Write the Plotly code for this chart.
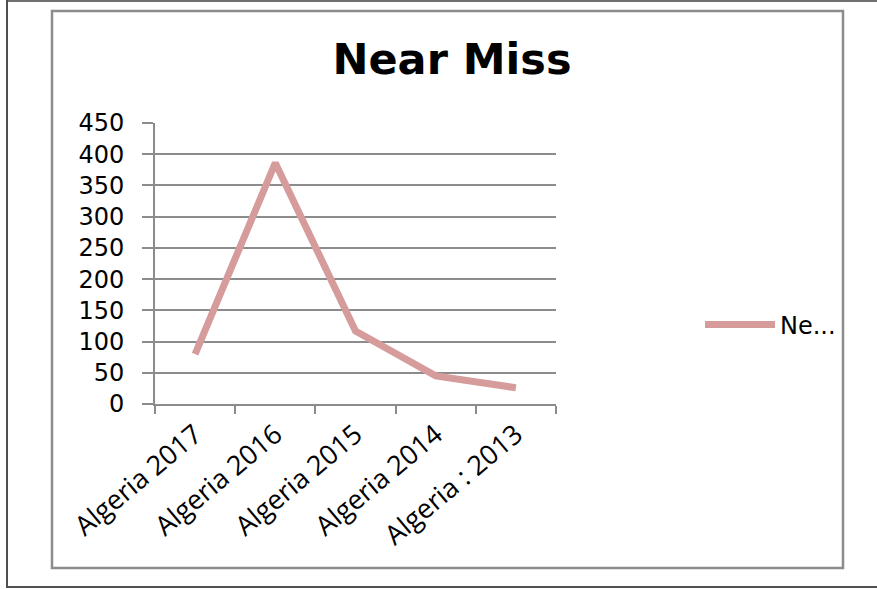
import plotly.graph_objects as go

categories = ["Algeria 2017", "Algeria 2016", "Algeria 2015", "Algeria 2014", "Algeria : 2013"]
near_miss = [80, 386, 117, 45, 26]
series_name = "Ne..."
y_ticks = [0, 50, 100, 150, 200, 250, 300, 350, 400, 450]

W, H = 877, 589
L, R, T, B = 155, 556, 123, 404  # plot area pixel bounds


def px(x):
    return (x - L) / (R - L)


def py(y):
    return (B - y) / (B - T)


fig = go.Figure()
fig.add_trace(go.Scatter(
    x=categories, y=near_miss, mode="lines", name=series_name,
    line=dict(color="#D69C9C", width=7),
))

grid = "#8c8c8c"
fig.update_layout(
    width=W, height=H,
    margin=dict(l=L, r=W - R, t=T, b=H - B),
    paper_bgcolor="white", plot_bgcolor="white",
    title=dict(text="Near Miss", x=452 / W, xref="container", xanchor="center",
               y=1 - 59 / H, yref="container", yanchor="middle",
               font=dict(family="DejaVu Sans", size=43, color="black", weight="bold")),
    showlegend=True,
    legend=dict(x=px(700), y=py(325), xanchor="left", yanchor="middle",
                font=dict(family="DejaVu Sans", size=24, color="black"),
                bgcolor="rgba(0,0,0,0)", itemwidth=70),
    xaxis=dict(type="category", range=[-0.5, 4.5], tickson="boundaries",
               showgrid=False, showline=True, linecolor=grid, linewidth=2,
               ticks="outside", ticklen=8, tickwidth=2, tickcolor=grid,
               tickangle=-40, ticklabelstandoff=2,
               tickfont=dict(family="Open Sans", size=27, color="black")),
    yaxis=dict(range=[0, 450], tickvals=y_ticks, showgrid=True, gridcolor=grid, gridwidth=1.5,
               showline=True, linecolor=grid, linewidth=2,
               ticks="outside", ticklen=11, tickwidth=1.5, tickcolor=grid,
               tickfont=dict(family="DejaVu Sans", size=24, color="black"),
               ticklabelstandoff=13, zeroline=False),
)

shapes = [
    # outer frame
    dict(type="line", xref="paper", yref="paper", x0=px(7), x1=px(877), y0=py(1), y1=py(1),
         line=dict(color="#707070", width=2)),
    dict(type="line", xref="paper", yref="paper", x0=px(7), x1=px(7), y0=py(0), y1=py(588),
         line=dict(color="#505050", width=2)),
    dict(type="line", xref="paper", yref="paper", x0=px(7), x1=px(877), y0=py(587), y1=py(587),
         line=dict(color="#505050", width=2)),
    # inner chart box
    dict(type="rect", xref="paper", yref="paper", x0=px(52), x1=px(843), y0=py(568), y1=py(11),
         line=dict(color="#8c8c8c", width=2.5), layer="below"),
]
fig.update_layout(shapes=shapes)

fig.write_html("out.html", config={"displayModeBar": False},
               post_script="document.body.style.margin='0';")
